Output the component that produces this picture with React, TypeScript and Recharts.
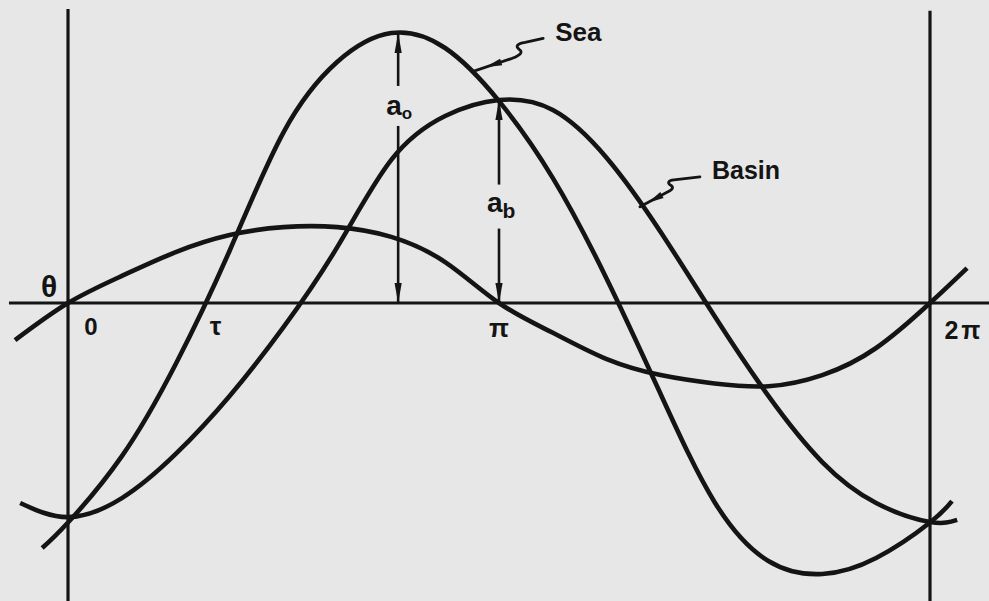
import { LineChart, Line, XAxis, YAxis, ReferenceLine, ReferenceDot } from "recharts";

const W = 989;
const H = 601;
const INK = "#141414";
const PAPER = "#e7e7e7";
const FONT = "'Liberation Sans', Arial, sans-serif";

// phase in units of pi, one tidal cycle runs 0..2
const phase = [0, 0.125, 0.25, 0.375, 0.5, 0.625, 0.75, 0.875, 1, 1.125, 1.25, 1.375, 1.5, 1.625, 1.75, 1.875, 2];

// levels scaled by the sea amplitude a0
const seaLevel = [-0.81, -0.565, -0.225, 0.193, 0.63, 0.89, 0.996, 0.941, 0.745, 0.461, 0.089, -0.336, -0.734, -0.952, -1.0, -0.941, -0.81];
const basinLevel = [-0.79, -0.72, -0.557, -0.343, -0.089, 0.207, 0.528, 0.69, 0.749, 0.712, 0.535, 0.262, -0.048, -0.343, -0.587, -0.738, -0.808];
const thetaLevel = [0, 0.1, 0.188, 0.251, 0.28, 0.28, 0.244, 0.151, 0, -0.11, -0.207, -0.266, -0.297, -0.307, -0.266, -0.166, 0];

// short tails past the 0 and 2pi verticals: [phase, level]
const seaEnds = [[-0.06, -0.904], [2.051, -0.731]];
const basinEnds = [[-0.111, -0.738], [2.063, -0.8]];
const thetaEnds = [[-0.123, -0.137], [2.086, 0.129]];

// sea level rises through zero at tau
const TAU = 0.31;
const SEA_CREST = { t: 0.766, v: 0.996 };
const BASIN_CREST = { t: 1, v: 0.749 };

// where the name leaders touch the curves
const SEA_TAG = { t: 0.94, v: 0.855 };
const BASIN_TAG = { t: 1.327, v: 0.355 };

const X_DOMAIN: [number, number] = [-0.1578, 2.1369];
const Y_DOMAIN: [number, number] = [-1.0996, 1.1181];
const FRAME_TOP = 1.085;
const AXIS_START = -0.137;

const build = (ends: number[][], levels: number[]) => [
  { t: ends[0][0], v: ends[0][1] },
  ...phase.map((t, i) => ({ t, v: levels[i] })),
  { t: ends[1][0], v: ends[1][1] },
];

const seaData = build(seaEnds, seaLevel);
const basinData = build(basinEnds, basinLevel);
const thetaData = build(thetaEnds, thetaLevel);

// narrow filled arrow head, tip at (tx,ty), base centred on (bx,by)
function head(tx: number, ty: number, bx: number, by: number, half: number) {
  const dx = bx - tx;
  const dy = by - ty;
  const len = Math.hypot(dx, dy) || 1;
  const nx = (-dy / len) * half;
  const ny = (dx / len) * half;
  return `M${tx},${ty} L${bx + nx},${by + ny} L${bx - nx},${by - ny} Z`;
}

// vertical dimension arrow with a gap for its label
const dimArrow = (sub: string, at: number, gap: number, baseDy: number, subSize: number, subDy: number) =>
  (p: any) => {
    const x = p.x1;
    const top = Math.min(p.y1, p.y2);
    const bottom = Math.max(p.y1, p.y2);
    const ly = bottom - at * (bottom - top);
    return (
      <g>
        <line x1={x} y1={top} x2={x} y2={ly - gap} stroke={INK} strokeWidth={2.6} />
        <line x1={x} y1={ly + gap} x2={x} y2={bottom} stroke={INK} strokeWidth={2.6} />
        <path d={head(x, top, x, top + 20, 3.6)} fill={INK} />
        <path d={head(x, bottom, x, bottom - 20, 3.6)} fill={INK} />
        <text x={x - 12} y={ly + baseDy} fontFamily={FONT} fontWeight="bold" fontSize={28} fill={INK}>
          a
          <tspan fontSize={subSize} dy={subDy}>{sub}</tspan>
        </text>
      </g>
    );
  };

// wavy leader from a curve out to its name
const leader = (d: string, tip: number[], base: number[], label: string, dx: number, dy: number, size: number) =>
  (p: any) => (
    <g transform={`translate(${p.cx},${p.cy})`}>
      <path d={d} fill="none" stroke={INK} strokeWidth={2.8} strokeLinecap="round" strokeLinejoin="round" />
      <path d={head(tip[0], tip[1], base[0], base[1], 3.4)} fill={INK} />
      <text x={dx} y={dy} fontFamily={FONT} fontWeight="bold" fontSize={size} fill={INK}>{label}</text>
    </g>
  );

const tag = (label: string, dx: number, dy: number, size: number, spacing = 0) =>
  (p: any) => (
    <text
      x={p.cx + dx}
      y={p.cy + dy}
      textAnchor="middle"
      fontFamily={FONT}
      fontWeight="bold"
      fontSize={size}
      fill={INK}
      letterSpacing={spacing}
    >
      {label}
    </text>
  );

export default function App() {
  return (
    <div style={{ position: "absolute", left: 0, top: 0, width: W, height: H, background: PAPER }}>
      <LineChart width={W} height={H} margin={{ top: 0, right: 0, bottom: 0, left: 0 }}>
        <XAxis type="number" dataKey="t" domain={X_DOMAIN} allowDataOverflow hide />
        <YAxis type="number" domain={Y_DOMAIN} allowDataOverflow hide />

        <ReferenceLine segment={[{ x: AXIS_START, y: 0 }, { x: X_DOMAIN[1], y: 0 }]} stroke={INK} strokeWidth={2.8} ifOverflow="visible" />
        <ReferenceLine segment={[{ x: 0, y: FRAME_TOP }, { x: 0, y: Y_DOMAIN[0] }]} stroke={INK} strokeWidth={3.2} ifOverflow="visible" />
        <ReferenceLine segment={[{ x: 2, y: FRAME_TOP - 0.007 }, { x: 2, y: Y_DOMAIN[0] }]} stroke={INK} strokeWidth={3.2} ifOverflow="visible" />

        <Line data={thetaData} dataKey="v" type="natural" stroke={INK} strokeWidth={4.6} dot={false} activeDot={false} isAnimationActive={false} />
        <Line data={basinData} dataKey="v" type="natural" stroke={INK} strokeWidth={4.6} dot={false} activeDot={false} isAnimationActive={false} />
        <Line data={seaData} dataKey="v" type="natural" stroke={INK} strokeWidth={4.6} dot={false} activeDot={false} isAnimationActive={false} />

        <ReferenceLine
          segment={[{ x: SEA_CREST.t, y: 0 }, { x: SEA_CREST.t, y: SEA_CREST.v }]}
          ifOverflow="visible"
          shape={dimArrow("o", 0.73, 20, 9, 17, 4)}
        />
        <ReferenceLine
          segment={[{ x: BASIN_CREST.t, y: 0 }, { x: BASIN_CREST.t, y: BASIN_CREST.v }]}
          ifOverflow="visible"
          shape={dimArrow("b", 0.475, 22, 5, 21, 6)}
        />

        <ReferenceDot
          x={SEA_TAG.t}
          y={SEA_TAG.v}
          r={0}
          ifOverflow="visible"
          shape={leader("M0,0 L39,-13 Q52,-18 46,-22 Q40,-27 52,-29 L70,-33", [12, -4], [28, -9.3], "Sea", 82, -30, 26)}
        />
        <ReferenceDot
          x={BASIN_TAG.t}
          y={BASIN_TAG.v}
          r={0}
          ifOverflow="visible"
          shape={leader("M0,0 L28,-15 Q36,-19 30,-22 Q26,-26 34,-27 L60,-30", [8, -4], [22, -11.8], "Basin", 72, -28, 25)}
        />

        <ReferenceDot x={0} y={0} r={0} ifOverflow="visible" shape={tag("θ", -19, -6, 30)} />
        <ReferenceDot x={0} y={0} r={0} ifOverflow="visible" shape={tag("0", 23, 32, 24)} />
        <ReferenceDot x={TAU} y={0} r={0} ifOverflow="visible" shape={tag("τ", 14, 32, 26)} />
        <ReferenceDot x={1} y={0} r={0} ifOverflow="visible" shape={tag("π", 0, 34, 26)} />
        <ReferenceDot x={2} y={0} r={0} ifOverflow="visible" shape={tag("2π", 34, 36, 25, 3)} />
      </LineChart>
    </div>
  );
}
